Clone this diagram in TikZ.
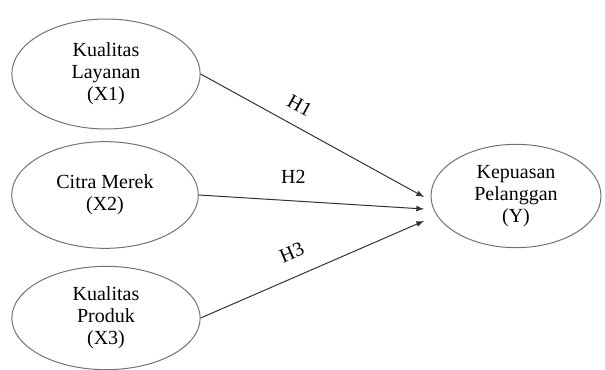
\documentclass[tikz,border=0pt]{standalone}
\usepackage{fontspec}
\setmainfont{Liberation Serif}
\usetikzlibrary{shapes.geometric}

\begin{document}
\begin{tikzpicture}[x=0.6pt, y=-0.6pt,
    var/.style={ellipse, draw=black!55, line width=0.6pt, inner sep=0pt, align=center, font=\fontsize{12}{13.2}\selectfont},
    link/.style={-latex, draw=black!80, line width=0.6pt},
    hlabel/.style={font=\fontsize{12}{13.2}\selectfont, inner sep=1pt}]
  \useasboundingbox (0,0) rectangle (605,370);
  \node[var, minimum width=113pt, minimum height=66pt] (x1) at (106,74) {Kualitas\\Layanan\\(X1)};
  \node[var, minimum width=112pt, minimum height=64pt] (x2) at (105,195) {Citra Merek\\(X2)};
  \node[var, minimum width=113pt, minimum height=62pt] (x3) at (106,318) {Kualitas\\Produk\\(X3)};
  \node[var, minimum width=102pt, minimum height=62pt] (y) at (516,196) {Kepuasan\\Pelanggan\\(Y)};
  \coordinate (e1) at (424,197);
  \coordinate (e2) at (424,209);
  \coordinate (e3) at (424,221);
  \draw[link] (x1.east) -- (e1) node[hlabel, pos=0.40, sloped, above=7pt] {H1};
  \draw[link] (x2.east) -- (e2) node[hlabel, pos=0.42, above=9pt] {H2};
  \draw[link] (x3.east) -- (e3) node[hlabel, pos=0.45, sloped, above=9pt] {H3};
\end{tikzpicture}
\end{document}
